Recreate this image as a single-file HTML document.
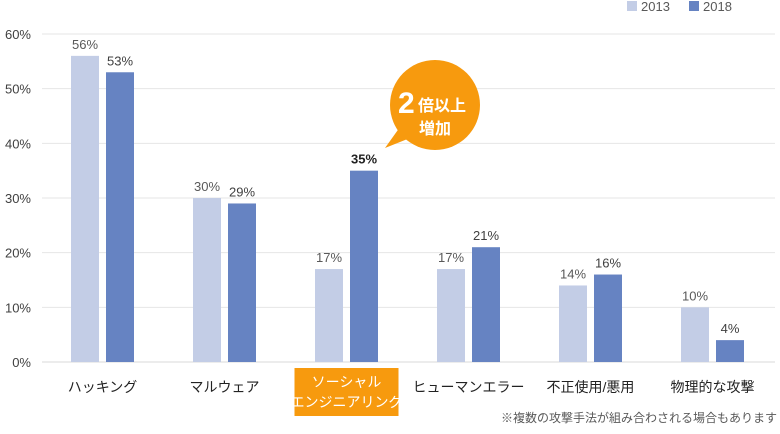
<!DOCTYPE html>
<html><head><meta charset="utf-8"><style>
body{margin:0;background:#fff}
svg text{font-family:"Liberation Sans","Noto Sans CJK JP",sans-serif}
</style></head><body>
<svg id="c" width="780" height="429">
</svg>
<script>
const categories=["ハッキング","マルウェア","ソーシャル\nエンジニアリング","ヒューマンエラー","不正使用/悪用","物理的な攻撃"];
const v2013=[56,30,17,17,14,10];
const v2018=[53,29,35,21,16,4];
const ticks=[0,10,20,30,40,50,60];
const svg=document.getElementById('c');
const NS='http://www.w3.org/2000/svg';
const x0=41.5,band=122,y0=362,yTop=34;
const y=v=>y0-(v/60)*(y0-yTop);
function mk(t,a,txt){const e=document.createElementNS(NS,t);for(const k in a)e.setAttribute(k,a[k]);if(txt!=null)e.textContent=txt;svg.appendChild(e);return e;}
ticks.forEach(t=>{
  const g=mk('line',{x1:42,x2:775,y1:y(t),y2:y(t),stroke:t==0?'#d9d9d9':'#e6e6e6','stroke-width':1});
  
  
  const l=mk('text',{x:31,y:y(t)+5,'text-anchor':'end','font-size':13,fill:'#404040'},t+'%');
  
  
});
categories.forEach((c,i)=>{
  const cx=x0+band*i+band/2;
  const b1=mk('rect',{x:cx-31.5,y:y(v2013[i]),width:28,height:y0-y(v2013[i]),fill:'#c3cde6'});
  
  
  const b2=mk('rect',{x:cx+3.5,y:y(v2018[i]),width:28,height:y0-y(v2018[i]),fill:'#6683c2'});
  
  
  const t1=mk('text',{x:cx-17.5,y:y(v2013[i])-7,'text-anchor':'middle','font-size':13,fill:'#595959'},v2013[i]+'%');
  
  
  const t2=mk('text',{x:cx+17.5,y:y(v2018[i])-7,'text-anchor':'middle','font-size':13,fill:i==2?'#222':'#404040','font-weight':i==2?'bold':'normal'},v2018[i]+'%');
  
  
  const lines=c.split('\n');
  if(lines.length>1){
    const r=mk('rect',{x:cx-52,y:368,width:104,height:48,fill:'#f79a0e'});
    
    
    lines.forEach((s,j)=>{const t=mk('text',{x:cx,y:387+j*20,'text-anchor':'middle','font-size':14,fill:'#fff'},s);
      
      });
  } else {
    const t=mk('text',{x:cx,y:392,'text-anchor':'middle','font-size':14,fill:'#222'},c);
    
    
  }
});
</script>
<svg style="position:absolute;left:0;top:0" width="780" height="429">
  <g>
    <rect x="627" y="1" width="10" height="10" fill="#c3cde6"/>
    <text x="641" y="11" font-size="13" fill="#595959">2013</text>
    <rect x="689" y="1" width="10" height="10" fill="#6683c2"/>
    <text x="703" y="11" font-size="13" fill="#595959">2018</text>
  </g>
  <g>
    <path d="M405 120 L385 148 L425 132 Z" fill="#f79a0e"/>
    <circle cx="435" cy="105" r="45" fill="#f79a0e"/>
    <text x="398" y="113" font-size="30" font-weight="bold" fill="#fff">2</text>
    <text x="418" y="111" font-size="16" font-weight="bold" fill="#fff">倍以上</text>
    <text x="435" y="134" font-size="16" font-weight="bold" fill="#fff" text-anchor="middle">増加</text>
  </g>
  <text x="777" y="422" font-size="12" fill="#595959" text-anchor="end">※複数の攻撃手法が組み合わされる場合もあります</text>
</svg>
</body></html>
